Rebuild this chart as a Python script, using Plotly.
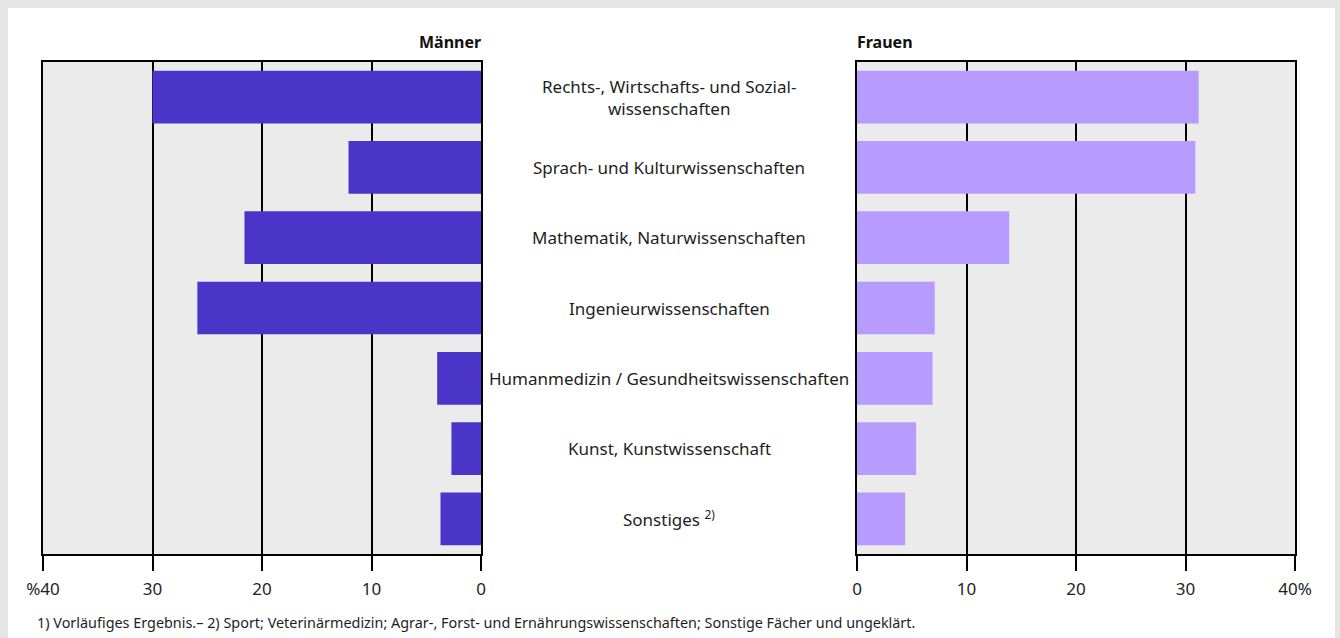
import plotly.graph_objects as go

categories = [
    "Rechts-, Wirtschafts- und Sozial-<br>wissenschaften",
    "Sprach- und Kulturwissenschaften",
    "Mathematik, Naturwissenschaften",
    "Ingenieurwissenschaften",
    "Humanmedizin / Gesundheitswissenschaften",
    "Kunst, Kunstwissenschaft",
    "Sonstiges <sup>2)</sup>",
]
maenner = [30.0, 12.1, 21.6, 25.9, 4.0, 2.7, 3.7]
frauen = [31.2, 30.9, 13.9, 7.1, 6.9, 5.4, 4.4]
tick_vals = [0, 10, 20, 30, 40]
left_ticktext = ["0", "10", "20", "30", "%40"]
right_ticktext = ["0", "10", "20", "30", "40%"]

W, H = 1340, 638
FONT = "Noto Sans"
ids = list(range(len(categories)))

def px(x):
    return x / W

def py(y):
    return 1 - y / H

lx0, lx1 = px(43), px(481)
rx0, rx1 = px(857), px(1295)
ytop, ybot = py(62), py(554)

fig = go.Figure()
fig.add_trace(go.Bar(x=maenner, y=ids, orientation="h", marker=dict(color="#4b35c9", line=dict(width=0)),
                     xaxis="x", yaxis="y", hoverinfo="x"))
fig.add_trace(go.Bar(x=frauen, y=ids, orientation="h", marker=dict(color="#b89bff", line=dict(width=0)),
                     xaxis="x2", yaxis="y2", hoverinfo="x"))

axis_common = dict(
    showgrid=True, gridcolor="black", gridwidth=1.5,
    showline=True, linecolor="black", linewidth=2, mirror=True,
    ticks="outside", ticklen=15, tickwidth=1.5, tickcolor="black",
    tickfont=dict(family=FONT, size=17, color="#1e1e1e"),
    ticklabelstandoff=4,
    zeroline=False, fixedrange=True, tickvals=tick_vals, automargin=False,
)
yaxis_common = dict(
    showgrid=False, showticklabels=False, ticks="", zeroline=False,
    showline=True, linecolor="black", linewidth=2, mirror=True,
    range=[len(categories) - 0.5, -0.5], fixedrange=True,
    domain=[ybot, ytop], automargin=False,
)

fig.update_layout(
    width=W, height=H, autosize=False,
    margin=dict(l=0, r=0, t=0, b=0, pad=0),
    paper_bgcolor="#e5e5e5",
    plot_bgcolor="rgba(0,0,0,0)",
    showlegend=False,
    bargap=0.25,
    xaxis=dict(axis_common, domain=[lx0, lx1], range=[40, 0], ticktext=left_ticktext, anchor="y"),
    xaxis2=dict(axis_common, domain=[rx0, rx1], range=[0, 40], ticktext=right_ticktext, anchor="y2"),
    yaxis=dict(yaxis_common, anchor="x"),
    yaxis2=dict(yaxis_common, anchor="x2"),
    shapes=[
        dict(type="rect", xref="paper", yref="paper", x0=px(8), x1=px(1335), y0=0, y1=py(8),
             fillcolor="white", line=dict(width=0), layer="below"),
        dict(type="rect", xref="paper", yref="paper", x0=lx0, x1=lx1, y0=ybot, y1=ytop,
             fillcolor="#ebebeb", line=dict(width=0), layer="below"),
        dict(type="rect", xref="paper", yref="paper", x0=rx0, x1=rx1, y0=ybot, y1=ytop,
             fillcolor="#ebebeb", line=dict(width=0), layer="below"),
    ],
)

annotations = []
for i, c in enumerate(categories):
    annotations.append(dict(
        text=c, x=px(669), y=i, xref="paper", yref="y", showarrow=False,
        xanchor="center", yanchor="middle", align="center",
        font=dict(family=FONT, size=17, color="#1e1e1e"),
    ))
annotations.append(dict(text="<b>Männer</b>", x=px(483), y=py(42), xref="paper", yref="paper",
                        showarrow=False, xanchor="right", yanchor="middle",
                        font=dict(family=FONT, size=16, color="#111")))
annotations.append(dict(text="<b>Frauen</b>", x=px(855), y=py(42), xref="paper", yref="paper",
                        showarrow=False, xanchor="left", yanchor="middle",
                        font=dict(family=FONT, size=16, color="#111")))
annotations.append(dict(
    text="1) Vorläufiges Ergebnis.– 2) Sport; Veterinärmedizin; Agrar-, Forst- und Ernährungswissenschaften; Sonstige Fächer und ungeklärt.",
    x=px(35), y=py(622), xref="paper", yref="paper", showarrow=False,
    xanchor="left", yanchor="middle", font=dict(family=FONT, size=14.4, color="#1e1e1e")))
fig.update_layout(annotations=annotations)

fig.write_html(
    "out.html",
    config={"responsive": False, "displayModeBar": False},
    post_script="document.body.style.margin='0';document.body.style.overflow='hidden';",
)
